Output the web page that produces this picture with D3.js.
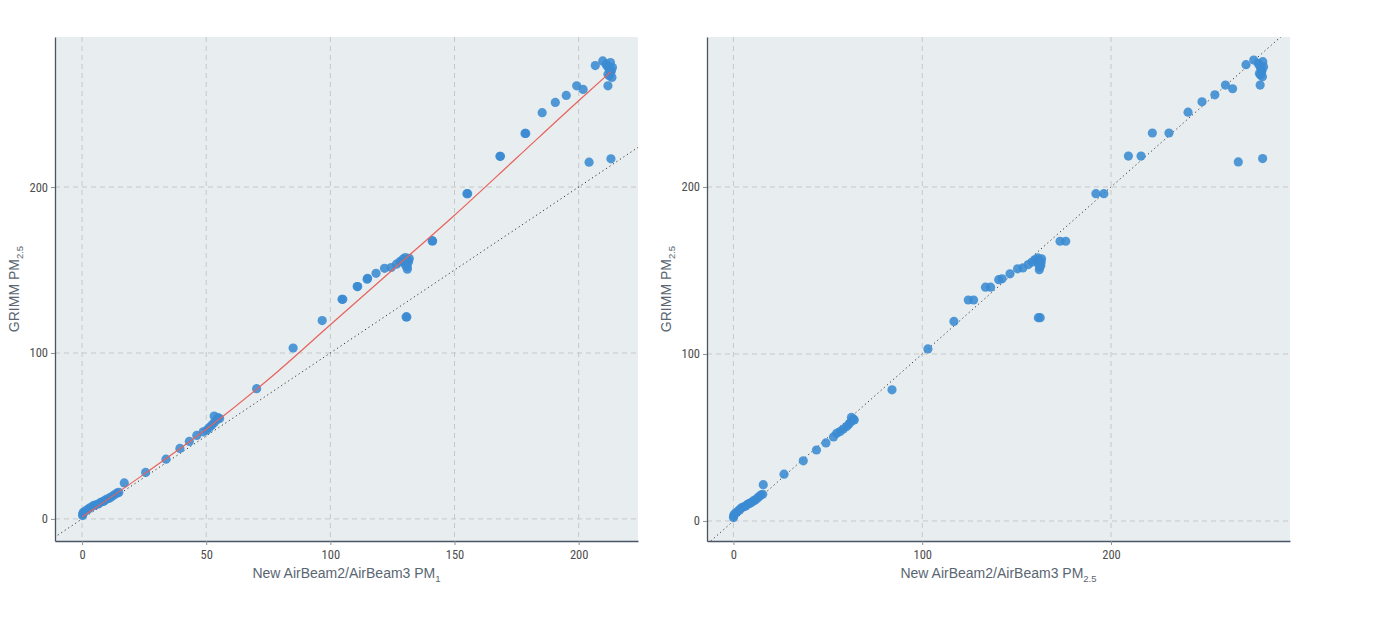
<!DOCTYPE html>
<html>
<head>
<meta charset="utf-8">
<script src="https://cdn.jsdelivr.net/npm/d3@7"></script>
<style>
  html, body { margin: 0; padding: 0; background: #ffffff; }
  svg { display: block; }
  .tick text { font-family: 'Liberation Sans Narrow', 'Roboto Condensed', Arial, sans-serif; }
</style>
</head>
<body>
<svg id="chart" width="1391" height="627"></svg>
<script>
// ---- data ----
const grimmPM25 = [2, 3, 4, 5, 6, 7, 8, 8.5, 9, 10, 10.5, 11, 12, 12.5, 13.5, 14.5, 15.5, 16,
  21.7, 28, 36, 42.5, 46.7, 50.3, 52.5, 53.5, 55, 56.5, 58, 59.5, 61, 62, 60.5,
  78.5, 103, 119.5, 132.3, 132.3, 140, 140, 144.5, 145, 148, 151, 151.5, 153.5, 155, 156.5,
  157.5, 156, 154, 152, 150.5, 121.7, 121.7, 167.5, 167.5, 196, 196, 218.5, 218.5,
  232.3, 232.3, 244.8, 251, 255.2, 261, 258.8, 273.2, 276, 273, 271, 269, 267, 274, 270, 268,
  261, 215, 217, 275, 272, 266, 157, 155, 153];
const airbeamPM1 = [0.2, 0.3, 0.5, 1.5, 2.5, 3.5, 4.5, 5.5, 6.5, 7.5, 8.5, 9, 10, 11, 12, 13, 14, 14.8,
  17, 25.6, 33.8, 39.4, 43.2, 46.2, 48.8, 50.2, 51.2, 52.2, 53.2, 54, 54.8, 53.2, 55.4,
  70.3, 85, 96.7, 104.7, 105, 110.8, 111, 114.8, 115, 118.4, 121.8, 124.5, 126.6, 128, 129.2,
  130.2, 131.2, 130.6, 131, 131, 130.5, 130.8, 141, 141.2, 155, 155.3, 168.3, 168.5,
  178.4, 178.7, 185.3, 190.6, 195, 199.2, 201.8, 206.7, 209.7, 211.5, 212.3, 212.8, 212.3, 211, 213.2, 211.8,
  211.8, 204.2, 213, 212.8, 213.6, 213.4, 131.8, 131.5, 130.2];
const airbeamPM25 = [0, 0.2, 0.4, 1.5, 2.5, 3.5, 4.5, 5.5, 6.5, 7.5, 8.5, 9.5, 10.5, 11.5, 12.5, 13.5, 14.5, 15.5,
  15.8, 26.8, 37, 44, 49, 53, 54.7, 56.5, 58.2, 60, 61.2, 62.4, 63.5, 62.5, 64,
  84, 103, 116.8, 124.4, 127.2, 133.5, 136.2, 140.5, 142.3, 146.5, 150.5, 153.3, 156.2, 158.2, 159.8,
  161.2, 162, 161.5, 162.3, 162, 161.5, 162.5, 173, 176, 192, 196.2, 209.2, 215.9,
  221.9, 230.7, 240.8, 248.2, 255, 260.6, 264.4, 271.5, 275.6, 278.5, 279.3, 279.8, 279.2, 278, 280, 278.6,
  279, 267.4, 280.3, 280.4, 280.8, 280.2, 163.2, 163, 162.8];
// smooth fit (left panel)
const fitX = [0, 25, 50, 75, 100, 125, 150, 175, 200, 213];
const fitY = [1.2, 27, 54, 84, 117, 150, 183, 217.5, 252, 269.5];

const xTicksLeft = [0, 50, 100, 150, 200];
const xTicksRight = [0, 100, 200];
const yTicks = [0, 100, 200];

// ---- layout ----
const svg = d3.select('#chart');
const C = {
  bg: '#e8edef', grid: '#c4c8cb', axis: '#4a5563', tickText: '#4d4d4d',
  title: '#5a6672', point: '#3a8bd3', fit: '#e8625c'
};

const panels = [
  { x0: 55, x1: 638, y0: 37, y1: 541, xDom: [-10.9, 223.9], yDom: [-13.3, 290.4],
    xs: airbeamPM1, xTicks: xTicksLeft, sub: '1', fit: true },
  { x0: 707, x1: 1290, y0: 37, y1: 541, xDom: [-14, 294.8], yDom: [-12, 289.8],
    xs: airbeamPM25, xTicks: xTicksRight, sub: '2.5', fit: false }
];

panels.forEach((p, pi) => {
  const x = d3.scaleLinear().domain(p.xDom).range([p.x0, p.x1]);
  const y = d3.scaleLinear().domain(p.yDom).range([p.y1, p.y0]);
  const g = svg.append('g');
  const clipId = 'clip' + pi;
  svg.append('clipPath').attr('id', clipId).append('rect')
    .attr('x', p.x0).attr('y', p.y0).attr('width', p.x1 - p.x0).attr('height', p.y1 - p.y0);

  g.append('rect').attr('x', p.x0).attr('y', p.y0)
    .attr('width', p.x1 - p.x0).attr('height', p.y1 - p.y0).attr('fill', C.bg);

  // grid
  g.append('g').selectAll('line.vx').data(p.xTicks).join('line')
    .attr('x1', d => x(d)).attr('x2', d => x(d)).attr('y1', p.y0).attr('y2', p.y1)
    .attr('stroke', C.grid).attr('stroke-width', 1).attr('stroke-dasharray', '5,4');
  g.append('g').selectAll('line.hy').data(yTicks).join('line')
    .attr('y1', d => y(d)).attr('y2', d => y(d)).attr('x1', p.x0).attr('x2', p.x1)
    .attr('stroke', C.grid).attr('stroke-width', 1).attr('stroke-dasharray', '5,4');

  const plot = g.append('g').attr('clip-path', `url(#${clipId})`);

  // identity line
  const lo = Math.max(p.xDom[0], p.yDom[0]) - 20, hi = Math.max(p.xDom[1], p.yDom[1]) + 20;
  plot.append('line').attr('x1', x(lo)).attr('y1', y(lo)).attr('x2', x(hi)).attr('y2', y(hi))
    .attr('stroke', '#333').attr('stroke-width', 1).attr('stroke-dasharray', '1.2,3');

  // points
  plot.append('g').selectAll('circle').data(grimmPM25.map((v, i) => [p.xs[i], v])).join('circle')
    .attr('cx', d => x(d[0])).attr('cy', d => y(d[1])).attr('r', 4.6)
    .attr('fill', C.point).attr('fill-opacity', 0.88);

  if (p.fit) {
    const line = d3.line().x(d => x(d[0])).y(d => y(d[1])).curve(d3.curveMonotoneX);
    plot.append('path').datum(fitX.map((v, i) => [v, fitY[i]])).attr('d', line)
      .attr('fill', 'none').attr('stroke', C.fit).attr('stroke-width', 1.2);
  }

  // axes
  const xAxis = d3.axisBottom(x).tickValues(p.xTicks).tickSize(4).tickPadding(5).tickSizeOuter(0);
  const yAxis = d3.axisLeft(y).tickValues(yTicks).tickSize(4).tickPadding(3).tickSizeOuter(0);
  const gx = g.append('g').attr('transform', `translate(0,${p.y1})`).call(xAxis);
  const gy = g.append('g').attr('transform', `translate(${p.x0},0)`).call(yAxis);
  [gx, gy].forEach(a => {
    a.select('.domain').attr('stroke', C.axis).attr('stroke-width', 1.3);
    a.selectAll('.tick line').attr('stroke', '#8a929a');
    a.selectAll('.tick text').attr('fill', C.tickText).attr('font-size', 12.5);
  });

  // axis titles
  const cx = (p.x0 + p.x1) / 2, cy = (p.y0 + p.y1) / 2;
  const tx = g.append('text').attr('x', cx).attr('y', 578).attr('text-anchor', 'middle')
    .attr('font-family', "'Liberation Sans Narrow', Arial, sans-serif").attr('font-size', 14)
    .attr('fill', C.title);
  tx.append('tspan').text('New AirBeam2/AirBeam3 PM');
  tx.append('tspan').attr('font-size', 9.5).attr('dy', 4).text(p.sub);

  const ty = g.append('text').attr('transform', `translate(${p.x0 - 36},${cy}) rotate(-90)`)
    .attr('text-anchor', 'middle')
    .attr('font-family', "'Liberation Sans Narrow', Arial, sans-serif").attr('font-size', 14)
    .attr('fill', C.title);
  ty.append('tspan').text('GRIMM PM');
  ty.append('tspan').attr('font-size', 9.5).attr('dy', 4).text('2.5');
});
</script>
</body>
</html>
